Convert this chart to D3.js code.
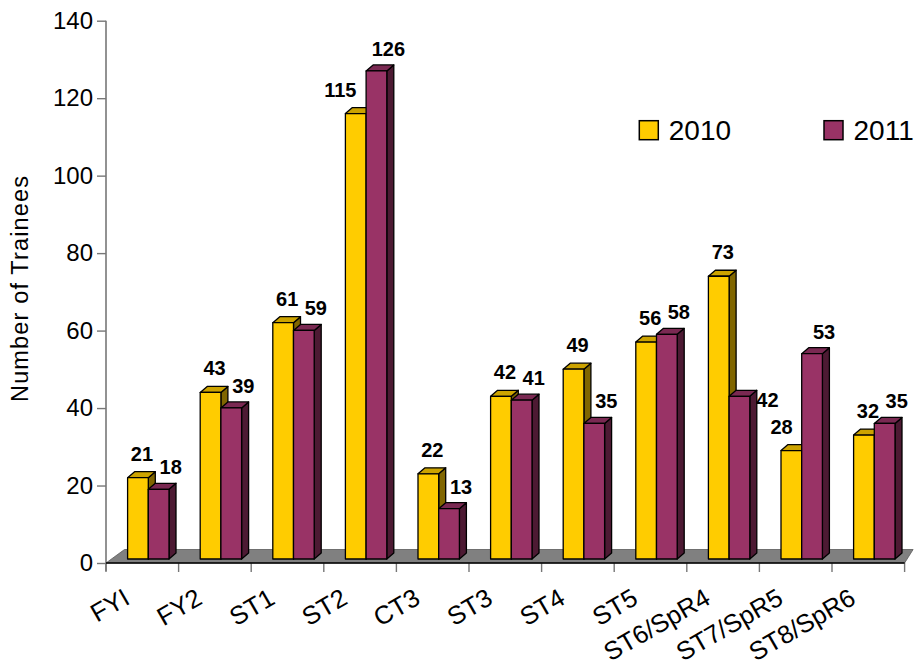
<!DOCTYPE html>
<html>
<head>
<meta charset="utf-8">
<script src="https://cdn.jsdelivr.net/npm/d3@7/dist/d3.min.js"></script>
<style>
  html, body { margin: 0; padding: 0; background: #fff; }
  svg { display: block; font-family: Arial, "Liberation Sans", sans-serif; }
</style>
</head>
<body>
<svg id="chart" width="914" height="669"></svg>
<script>
// Trainee numbers by grade, 2010 vs 2011
const categories = ["FYI", "FY2", "ST1", "ST2", "CT3", "ST3", "ST4", "ST5", "ST6/SpR4", "ST7/SpR5", "ST8/SpR6"];
const values2010 = [21, 43, 61, 115, 22, 42, 49, 56, 73, 28, 32];
const values2011 = [18, 39, 59, 126, 13, 41, 35, 58, 42, 53, 35];
const seriesNames = ["2010", "2011"];
const yTicks = [0, 20, 40, 60, 80, 100, 120, 140];

const svg = d3.select("#chart");

// plot frame (front plane of the 3-D floor)
const plotLeft = 106, plotRight = 904.6, plotTop = 20.7, plotBottom = 563;
const floorLift = 4;          // bars stand mid-way back on the floor
const depthX = 7, depthY = 6; // bar extrusion
const floorDX = 18.5, floorDY = 13.5;

const x = d3.scaleBand().domain(categories).range([plotLeft, plotRight]).padding(0);
const y = d3.scaleLinear().domain([0, 140]).range([plotBottom, plotTop]);
const barW = 20.7;
const pairShift = 6;

const colors = {
  "2010": { front: "#FFCC00", top: "#CCA300", side: "#806600" },
  "2011": { front: "#993366", top: "#7A2952", side: "#4D1A33" }
};

// floor
svg.append("polygon")
  .attr("points", [
    [plotLeft, plotBottom], [plotRight, plotBottom], [plotRight + 8.5, plotBottom - floorDY], [plotLeft + floorDX, plotBottom - floorDY]
  ].map(p => p.join(",")).join(" "))
  .attr("fill", "#808080")
  .attr("stroke", "#5a5a5a")
  .attr("stroke-width", 0.8);

// y axis
const yAxisG = svg.append("g").attr("transform", `translate(${plotLeft},0)`)
  .call(d3.axisLeft(y).tickValues(yTicks).tickSize(9).tickPadding(4).tickFormat(d3.format("d")));
yAxisG.select(".domain").remove();
yAxisG.selectAll(".tick line").attr("stroke", "#777").attr("stroke-width", 1.4);
yAxisG.selectAll(".tick text").attr("font-size", 24).attr("fill", "#000")
  .attr("font-family", "Arial, 'Liberation Sans', sans-serif");
svg.append("line").attr("x1", plotLeft).attr("x2", plotLeft).attr("y1", plotTop).attr("y2", plotBottom + 8)
  .attr("stroke", "#777").attr("stroke-width", 1.6);

// x axis ticks at category boundaries
const bounds = categories.map(c => x(c)).concat([plotRight]);
svg.selectAll("line.xtick").data(bounds).join("line")
  .attr("class", "xtick")
  .attr("x1", d => d).attr("x2", d => d)
  .attr("y1", plotBottom).attr("y2", plotBottom + 9)
  .attr("stroke", "#777").attr("stroke-width", 1.4);
svg.append("line").attr("x1", plotLeft).attr("x2", plotRight).attr("y1", plotBottom).attr("y2", plotBottom)
  .attr("stroke", "#000").attr("stroke-width", 1.6);

// category labels
svg.selectAll("text.xlab").data(categories).join("text")
  .attr("class", "xlab")
  .attr("text-anchor", "end")
  .attr("font-size", 25.5)
  .attr("transform", d => `translate(${x(d) + x.bandwidth() / 2 - 11},${plotBottom + 40}) rotate(-30)`)
  .text(d => d);

// axis title
svg.append("text")
  .attr("transform", "translate(28,289) rotate(-90)")
  .attr("text-anchor", "middle")
  .attr("font-size", 23.5)
  .attr("textLength", 226)
  .attr("lengthAdjust", "spacing")
  .text("Number of Trainees");

// bars
const barBase = y(0) - floorLift;
const rows = [];
categories.forEach((c, i) => {
  const mid = x(c) + x.bandwidth() / 2 + pairShift;
  rows.push({ cat: c, s: seriesNames[0], v: values2010[i], x0: mid - barW, other: values2011[i] });
  rows.push({ cat: c, s: seriesNames[1], v: values2011[i], x0: mid, other: values2010[i] });
});

const barG = svg.append("g");
rows.forEach(r => {
  const yt = y(r.v) - floorLift;
  const x0 = r.x0, x1 = r.x0 + barW;
  const col = colors[r.s];
  const g = barG.append("g").attr("stroke", "#000").attr("stroke-width", 1.3).attr("stroke-linejoin", "round");
  g.append("polygon")
    .attr("points", [[x1, yt], [x1 + depthX, yt - depthY], [x1 + depthX, barBase - depthY], [x1, barBase]].map(p => p.join(",")).join(" "))
    .attr("fill", col.side);
  g.append("polygon")
    .attr("points", [[x0, yt], [x0 + depthX, yt - depthY], [x1 + depthX, yt - depthY], [x1, yt]].map(p => p.join(",")).join(" "))
    .attr("fill", col.top);
  g.append("rect")
    .attr("x", x0).attr("y", yt).attr("width", barW).attr("height", barBase - yt)
    .attr("fill", col.front);
});

// value labels, nudged clear of a taller neighbour bar
rows.forEach(r => {
  const yt = y(r.v) - floorLift;
  let cx, base;
  const halfW = String(r.v).length * 5.6;
  if (r.s === seriesNames[0]) {
    cx = r.x0 + barW / 2 + 4;
    base = yt - 17;
    const otherTop = y(r.other) - floorLift - depthY;
    const rightEdge = cx + halfW;
    const nextLeft = r.x0 + barW;
    if (r.other > r.v && base - 15 > otherTop && rightEdge > nextLeft - 5) {
      cx = nextLeft - 9 - halfW;
    }
  } else {
    cx = r.x0 + barW / 2 + 12;
    base = yt - 15;
    if (r.other > r.v && (r.other - r.v) > 25) {
      // step aside from the taller neighbour's side face
      cx += 16;
      base += 26;
    }
  }
  svg.append("text")
    .attr("x", cx).attr("y", base)
    .attr("text-anchor", "middle")
    .attr("font-size", 20)
    .attr("font-weight", "bold")
    .text(r.v);
});

// legend
const legend = svg.append("g");
const legendPos = [{ s: seriesNames[0], x: 639.3 }, { s: seriesNames[1], x: 824 }];
legendPos.forEach(l => {
  legend.append("rect").attr("x", l.x).attr("y", 120.7).attr("width", 19).attr("height", 19)
    .attr("fill", colors[l.s].front).attr("stroke", "#000").attr("stroke-width", 1.5);
  legend.append("text").attr("x", l.x + 29.5).attr("y", 139.5)
    .attr("font-size", 28).text(l.s);
});
</script>
</body>
</html>
